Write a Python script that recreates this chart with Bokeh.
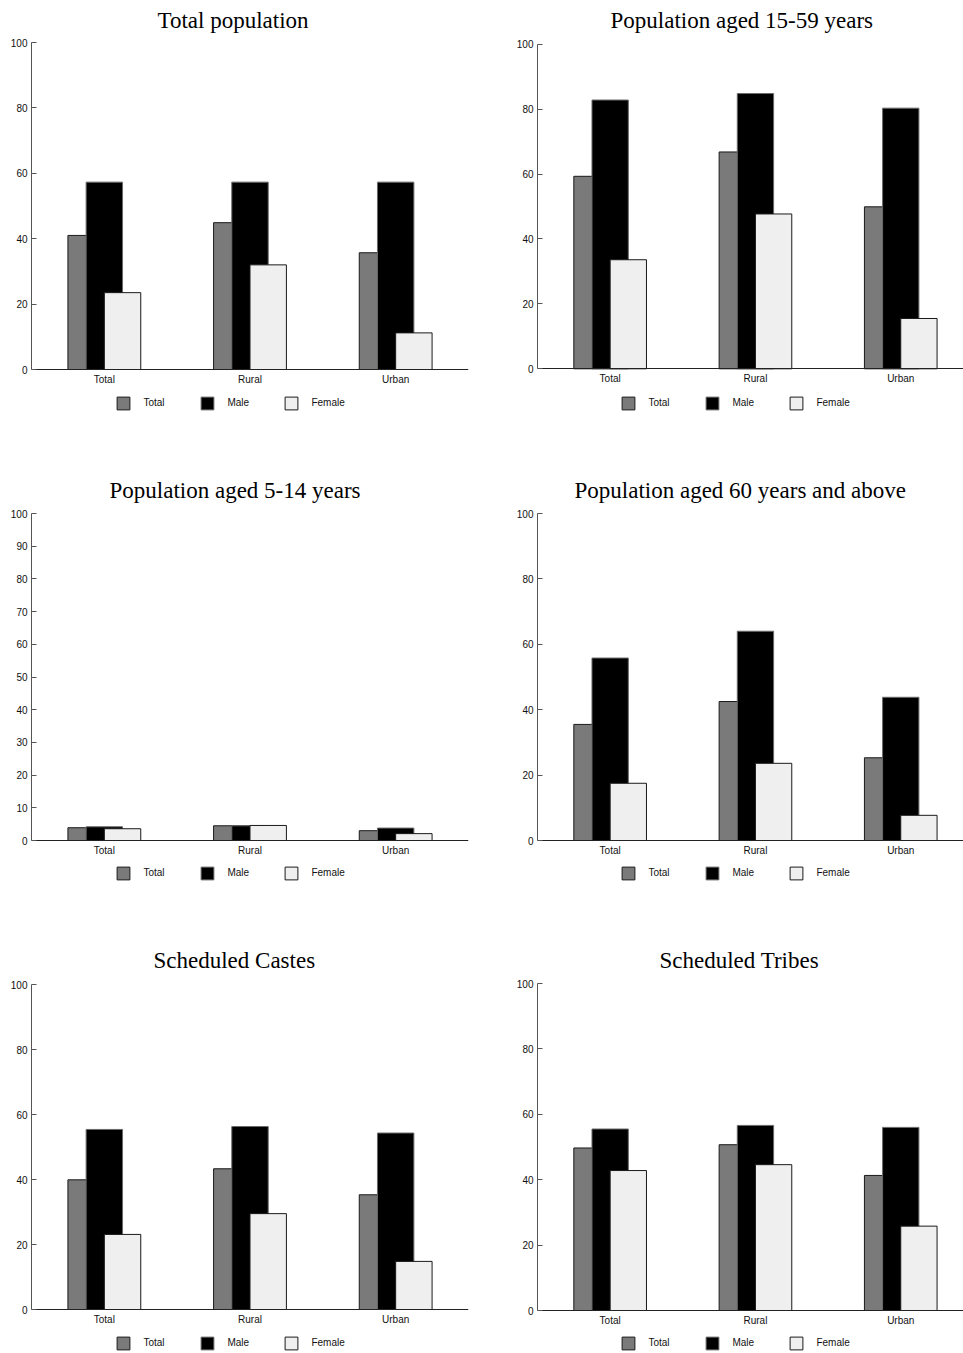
from bokeh.plotting import figure
from bokeh.models import ColumnDataSource, Range1d, FixedTicker, Legend, LegendItem
from bokeh.transform import dodge
from bokeh.layouts import column, row
from bokeh.embed import file_html
from bokeh.resources import INLINE

# ---------------- data ----------------
categories = ["Total", "Rural", "Urban"]
series_names = ["Total", "Male", "Female"]

titles = [
    "Total population",
    "Population aged 15-59 years",
    "Population aged 5-14 years",
    "Population aged 60 years and above",
    "Scheduled Castes",
    "Scheduled Tribes",
]

# Total population
tp_total = [41.0, 44.9, 35.7]
tp_male = [57.3, 57.3, 57.3]
tp_female = [23.5, 32.0, 11.2]

# Population aged 15-59 years
a1559_total = [59.3, 66.8, 49.9]
a1559_male = [82.8, 84.8, 80.3]
a1559_female = [33.6, 47.7, 15.5]

# Population aged 5-14 years
a514_total = [3.9, 4.5, 3.0]
a514_male = [4.2, 4.5, 3.8]
a514_female = [3.6, 4.6, 2.1]

# Population aged 60 years and above
a60_total = [35.5, 42.5, 25.3]
a60_male = [55.8, 64.0, 43.8]
a60_female = [17.5, 23.6, 7.7]

# Scheduled Castes
sc_total = [39.9, 43.3, 35.3]
sc_male = [55.4, 56.3, 54.3]
sc_female = [23.1, 29.5, 14.8]

# Scheduled Tribes
st_total = [49.7, 50.7, 41.3]
st_male = [55.5, 56.6, 56.0]
st_female = [42.8, 44.6, 25.8]

yticks_20 = [0, 20, 40, 60, 80, 100]
yticks_10 = [0, 10, 20, 30, 40, 50, 60, 70, 80, 90, 100]

# ---------------- styling ----------------
FILL = {"Total": "#7a7a7a", "Male": "#000000", "Female": "#efefef"}
LINE = {"Total": "#1a1a1a", "Male": "#6a6a6a", "Female": "#1a1a1a"}
OFFS = {"Total": -0.125, "Male": 0.0, "Female": 0.125}
SANS = "Liberation Sans"
SERIF = "Liberation Serif"
TOP = 34  # frame top (px from figure top)


def make_panel(title, tot, male, fem, yticks, side, y100, y0, fb, height, title_x, leg_bottom):
    if side == "left":
        left, fw, right, unit, leg_x = 31, 437, 12, 437 / 3.0, 84.4
    else:
        left, fw, right, unit, leg_x = 57, 426, 0, 145.3, 83.4
    ppu = (y0 - y100) / 100.0
    y_end = 100 + (y100 - TOP) / ppu
    y_start = -(fb - y0) / ppu
    p = figure(
        output_backend="svg", toolbar_location=None,
        frame_width=fw, frame_height=fb - TOP,
        min_border_left=left, min_border_right=right,
        min_border_top=TOP, min_border_bottom=height - fb,
        x_range=Range1d(0, fw / unit), y_range=Range1d(y_start, y_end),
        background_fill_color="white", border_fill_color="white",
    )
    p.outline_line_color = None
    p.grid.visible = False

    p.title.text = title
    p.title.text_font = SERIF
    p.title.text_font_size = "23px"
    p.title.text_font_style = "normal"
    p.title.text_color = "#000000"
    p.title.align = "left"
    p.title.offset = title_x
    p.title.standoff = 4

    centers = [i + 0.5 for i in range(len(categories))]
    src = ColumnDataSource(dict(x=centers, Total=tot, Male=male, Female=fem))

    items = []
    for s in series_names:
        r = p.vbar(x=dodge("x", OFFS[s]), top=s, width=0.25, bottom=0, source=src,
                   fill_color=FILL[s], line_color=LINE[s], line_width=1)
        items.append(LegendItem(label=s, renderers=[r]))

    # x axis (drawn at value 0 inside the frame)
    xa = p.xaxis[0]
    xa.fixed_location = 0
    xa.ticker = FixedTicker(ticks=centers)
    xa.major_label_overrides = {c: lab for c, lab in zip(centers, categories)}
    xa.major_tick_line_color = None
    xa.major_tick_in = 0
    xa.major_tick_out = 0
    xa.minor_tick_line_color = None
    xa.axis_line_color = "#222222"
    xa.axis_line_width = 1
    xa.major_label_text_font = SANS
    xa.major_label_text_font_size = "10px"
    xa.major_label_text_color = "#111111"
    xa.major_label_standoff = 4

    # y axis (line only from 0 to 100)
    ya = p.yaxis[0]
    ya.bounds = (0, 100)
    ya.ticker = FixedTicker(ticks=yticks)
    ya.major_tick_in = 5
    ya.major_tick_out = 0
    ya.minor_tick_line_color = None
    ya.major_tick_line_color = "#555555"
    ya.axis_line_color = "#555555"
    ya.major_label_text_font = SANS
    ya.major_label_text_font_size = "10px"
    ya.major_label_text_color = "#111111"
    ya.major_label_standoff = 4

    leg = Legend(items=items, orientation="horizontal", location=(leg_x, fb - leg_bottom),
                 glyph_width=16, glyph_height=16, label_standoff=12, label_width=45,
                 label_height=16, spacing=11, padding=0, margin=0,
                 border_line_color=None, background_fill_alpha=0,
                 label_text_font=SANS, label_text_font_size="10px",
                 label_text_color="#111111")
    p.add_layout(leg)
    return p


p1 = make_panel(titles[0], tp_total, tp_male, tp_female, yticks_20, "left", 42, 369, 420, 470, 126, 410.5)
p2 = make_panel(titles[1], a1559_total, a1559_male, a1559_female, yticks_20, "right", 43.7, 368.3, 420, 470, 73, 410.5)
p3 = make_panel(titles[2], a514_total, a514_male, a514_female, yticks_10, "left", 43, 370, 420, 470, 78, 410.5)
p4 = make_panel(titles[3], a60_total, a60_male, a60_female, yticks_20, "right", 43, 370, 420, 470, 37, 410.5)
p5 = make_panel(titles[4], sc_total, sc_male, sc_female, yticks_20, "left", 44, 369, 412, 413, 122, 410.5)
p6 = make_panel(titles[5], st_total, st_male, st_female, yticks_20, "right", 43, 370, 412, 413, 122, 410.5)

layout = column(row(p1, p2, spacing=0), row(p3, p4, spacing=0), row(p5, p6, spacing=0), spacing=0)

open("out.html", "w").write(file_html(layout, INLINE))
